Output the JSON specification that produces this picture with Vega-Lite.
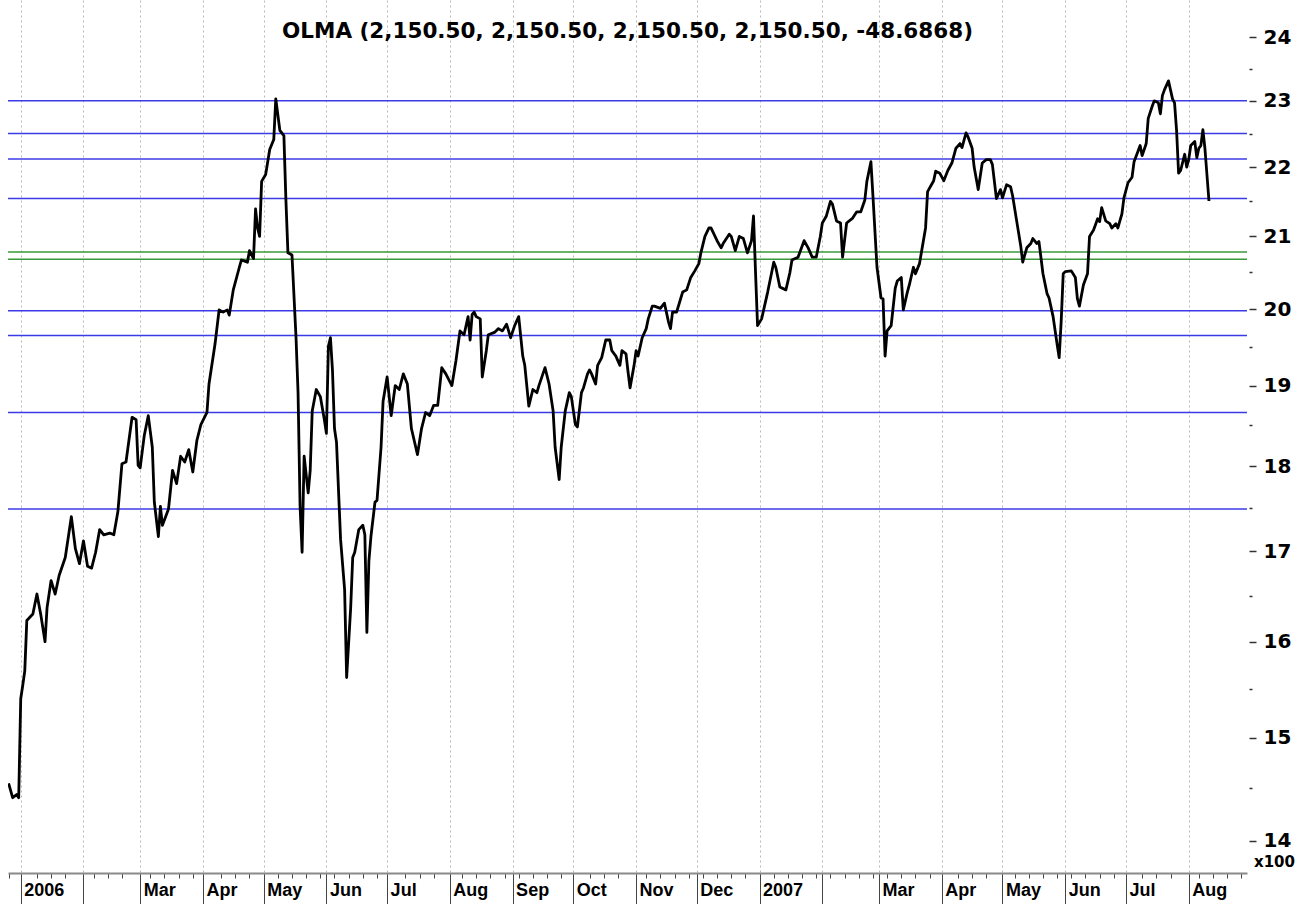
{
  "$schema": "https://vega.github.io/schema/vega-lite/v6.json",
  "width": 1239,
  "height": 873,
  "autosize": {"type": "none"},
  "padding": {"left": 8, "top": 0, "right": 60, "bottom": 31},
  "background": "white",
  "config": {"view": {"stroke": null}},
  "title": {
    "text": "OLMA (2,150.50, 2,150.50, 2,150.50, 2,150.50, -48.6868)",
    "font": "DejaVu Sans",
    "fontSize": 21.5,
    "fontWeight": "bold",
    "color": "black",
    "anchor": "middle",
    "frame": "group",
    "offset": -42
  },
  "encoding": {
    "y": {
      "field": "v",
      "type": "quantitative",
      "scale": {"type": "log", "domain": [13.70, 24.61], "nice": false, "zero": false},
      "axis": {
        "orient": "right",
        "values": [14, 14.5, 15, 15.5, 16, 16.5, 17, 17.5, 18, 18.5, 19, 19.5, 20, 20.5, 21, 21.5, 22, 22.5, 23, 23.5, 24],
        "labelExpr": "datum.value % 1 == 0 ? format(datum.value, 'd') : ''",
        "grid": false,
        "domain": false,
        "offset": 2,
        "tickSize": {"condition": {"test": "datum.value % 1 != 0", "value": 3}, "value": 7},
        "tickColor": "#333333",
        "tickWidth": 1.5,
        "labelFont": "DejaVu Sans",
        "labelFontSize": 20,
        "labelFontWeight": "bold",
        "labelColor": "black",
        "labelPadding": 7,
        "labelOverlap": false,
        "labelBound": false,
        "labelFlush": false,
        "title": "x100",
        "titleAngle": 0,
        "titleX": 25,
        "titleY": 861,
        "titleAlign": "center",
        "titleBaseline": "middle",
        "titleFont": "DejaVu Sans",
        "titleFontSize": 15,
        "titleFontWeight": "bold",
        "titleColor": "black"
      }
    }
  },
  "layer": [
    {
      "data": {"values": [
        {"v": 23.0, "kind": "blue"},
        {"v": 22.5, "kind": "blue"},
        {"v": 22.12, "kind": "blue"},
        {"v": 21.54, "kind": "blue"},
        {"v": 20.78, "kind": "green"},
        {"v": 20.68, "kind": "green"},
        {"v": 19.98, "kind": "blue"},
        {"v": 19.65, "kind": "blue"},
        {"v": 18.66, "kind": "blue"},
        {"v": 17.49, "kind": "blue"}
      ]},
      "mark": {"type": "rule", "strokeWidth": 1.5},
      "encoding": {
        "color": {"field": "kind", "type": "nominal", "scale": {"domain": ["blue", "green"], "range": ["#3b3be6", "#3a983a"]}, "legend": null}
      }
    },
    {
      "data": {"values": [
        {"date": "2005-12-26", "v": 14.55}, {"date": "2005-12-28", "v": 14.41}, {"date": "2005-12-30", "v": 14.44}, {"date": "2005-12-31", "v": 14.41},
        {"date": "2006-01-01", "v": 15.40}, {"date": "2006-01-02", "v": 15.54}, {"date": "2006-01-03", "v": 15.69}, {"date": "2006-01-04", "v": 16.23},
        {"date": "2006-01-07", "v": 16.30}, {"date": "2006-01-09", "v": 16.52}, {"date": "2006-01-11", "v": 16.28}, {"date": "2006-01-13", "v": 16.00},
        {"date": "2006-01-14", "v": 16.37}, {"date": "2006-01-16", "v": 16.67}, {"date": "2006-01-18", "v": 16.52}, {"date": "2006-01-20", "v": 16.73},
        {"date": "2006-01-23", "v": 16.93}, {"date": "2006-01-26", "v": 17.40}, {"date": "2006-01-28", "v": 17.03}, {"date": "2006-01-30", "v": 16.86},
        {"date": "2006-02-01", "v": 17.12}, {"date": "2006-02-03", "v": 16.83}, {"date": "2006-02-05", "v": 16.81}, {"date": "2006-02-07", "v": 16.99},
        {"date": "2006-02-09", "v": 17.25}, {"date": "2006-02-11", "v": 17.19}, {"date": "2006-02-14", "v": 17.21}, {"date": "2006-02-16", "v": 17.19},
        {"date": "2006-02-18", "v": 17.46}, {"date": "2006-02-20", "v": 18.03}, {"date": "2006-02-22", "v": 18.05}, {"date": "2006-02-25", "v": 18.60},
        {"date": "2006-02-27", "v": 18.57}, {"date": "2006-02-28", "v": 18.01}, {"date": "2006-03-01", "v": 17.98}, {"date": "2006-03-03", "v": 18.37},
        {"date": "2006-03-05", "v": 18.62}, {"date": "2006-03-07", "v": 18.23}, {"date": "2006-03-08", "v": 17.57}, {"date": "2006-03-10", "v": 17.17},
        {"date": "2006-03-11", "v": 17.52}, {"date": "2006-03-12", "v": 17.30}, {"date": "2006-03-15", "v": 17.49}, {"date": "2006-03-17", "v": 17.95},
        {"date": "2006-03-19", "v": 17.79}, {"date": "2006-03-21", "v": 18.12}, {"date": "2006-03-23", "v": 18.05}, {"date": "2006-03-25", "v": 18.20},
        {"date": "2006-03-27", "v": 17.93}, {"date": "2006-03-29", "v": 18.31}, {"date": "2006-03-31", "v": 18.51}, {"date": "2006-04-03", "v": 18.66},
        {"date": "2006-04-04", "v": 19.02}, {"date": "2006-04-07", "v": 19.54}, {"date": "2006-04-09", "v": 19.99}, {"date": "2006-04-11", "v": 19.96},
        {"date": "2006-04-13", "v": 19.99}, {"date": "2006-04-14", "v": 19.92}, {"date": "2006-04-16", "v": 20.26}, {"date": "2006-04-19", "v": 20.57},
        {"date": "2006-04-20", "v": 20.67}, {"date": "2006-04-23", "v": 20.64}, {"date": "2006-04-24", "v": 20.80}, {"date": "2006-04-26", "v": 20.69},
        {"date": "2006-04-27", "v": 21.39}, {"date": "2006-04-28", "v": 21.12}, {"date": "2006-04-29", "v": 21.00}, {"date": "2006-04-30", "v": 21.79},
        {"date": "2006-05-02", "v": 21.89}, {"date": "2006-05-04", "v": 22.26}, {"date": "2006-05-06", "v": 22.41}, {"date": "2006-05-07", "v": 23.03},
        {"date": "2006-05-09", "v": 22.55}, {"date": "2006-05-11", "v": 22.47}, {"date": "2006-05-12", "v": 21.52}, {"date": "2006-05-13", "v": 20.77},
        {"date": "2006-05-15", "v": 20.74}, {"date": "2006-05-17", "v": 19.62}, {"date": "2006-05-18", "v": 18.91}, {"date": "2006-05-19", "v": 17.52},
        {"date": "2006-05-20", "v": 16.99}, {"date": "2006-05-21", "v": 18.12}, {"date": "2006-05-23", "v": 17.68}, {"date": "2006-05-24", "v": 17.95},
        {"date": "2006-05-25", "v": 18.68}, {"date": "2006-05-27", "v": 18.95}, {"date": "2006-05-29", "v": 18.86}, {"date": "2006-05-31", "v": 18.57},
        {"date": "2006-06-01", "v": 18.40}, {"date": "2006-06-02", "v": 19.51}, {"date": "2006-06-03", "v": 19.62}, {"date": "2006-06-04", "v": 19.20},
        {"date": "2006-06-05", "v": 18.46}, {"date": "2006-06-06", "v": 18.29}, {"date": "2006-06-08", "v": 17.14}, {"date": "2006-06-10", "v": 16.57},
        {"date": "2006-06-11", "v": 15.62}, {"date": "2006-06-13", "v": 16.37}, {"date": "2006-06-14", "v": 16.93}, {"date": "2006-06-15", "v": 16.99},
        {"date": "2006-06-17", "v": 17.25}, {"date": "2006-06-19", "v": 17.30}, {"date": "2006-06-20", "v": 17.19}, {"date": "2006-06-21", "v": 16.10},
        {"date": "2006-06-22", "v": 16.89}, {"date": "2006-06-23", "v": 17.17}, {"date": "2006-06-25", "v": 17.57}, {"date": "2006-06-26", "v": 17.59},
        {"date": "2006-06-28", "v": 18.23}, {"date": "2006-06-29", "v": 18.80}, {"date": "2006-07-01", "v": 19.11}, {"date": "2006-07-03", "v": 18.62},
        {"date": "2006-07-05", "v": 19.00}, {"date": "2006-07-07", "v": 18.95}, {"date": "2006-07-09", "v": 19.15}, {"date": "2006-07-11", "v": 19.02},
        {"date": "2006-07-13", "v": 18.46}, {"date": "2006-07-16", "v": 18.14}, {"date": "2006-07-18", "v": 18.46}, {"date": "2006-07-20", "v": 18.66},
        {"date": "2006-07-22", "v": 18.62}, {"date": "2006-07-24", "v": 18.75}, {"date": "2006-07-26", "v": 18.75}, {"date": "2006-07-28", "v": 19.23},
        {"date": "2006-07-30", "v": 19.15}, {"date": "2006-08-02", "v": 19.00}, {"date": "2006-08-04", "v": 19.32}, {"date": "2006-08-06", "v": 19.71},
        {"date": "2006-08-08", "v": 19.66}, {"date": "2006-08-10", "v": 19.90}, {"date": "2006-08-11", "v": 19.59}, {"date": "2006-08-12", "v": 19.93},
        {"date": "2006-08-13", "v": 19.96}, {"date": "2006-08-14", "v": 19.90}, {"date": "2006-08-16", "v": 19.87}, {"date": "2006-08-17", "v": 19.11},
        {"date": "2006-08-19", "v": 19.45}, {"date": "2006-08-20", "v": 19.66}, {"date": "2006-08-23", "v": 19.69}, {"date": "2006-08-25", "v": 19.74},
        {"date": "2006-08-27", "v": 19.71}, {"date": "2006-08-29", "v": 19.80}, {"date": "2006-08-31", "v": 19.62}, {"date": "2006-09-02", "v": 19.78},
        {"date": "2006-09-04", "v": 19.90}, {"date": "2006-09-06", "v": 19.38}, {"date": "2006-09-07", "v": 19.26}, {"date": "2006-09-09", "v": 18.74},
        {"date": "2006-09-11", "v": 18.95}, {"date": "2006-09-13", "v": 18.91}, {"date": "2006-09-14", "v": 19.00}, {"date": "2006-09-17", "v": 19.23},
        {"date": "2006-09-19", "v": 19.02}, {"date": "2006-09-21", "v": 18.68}, {"date": "2006-09-22", "v": 18.23}, {"date": "2006-09-24", "v": 17.84},
        {"date": "2006-09-25", "v": 18.23}, {"date": "2006-09-27", "v": 18.68}, {"date": "2006-09-29", "v": 18.91}, {"date": "2006-09-30", "v": 18.86},
        {"date": "2006-10-02", "v": 18.51}, {"date": "2006-10-03", "v": 18.48}, {"date": "2006-10-05", "v": 18.91}, {"date": "2006-10-06", "v": 18.97},
        {"date": "2006-10-08", "v": 19.15}, {"date": "2006-10-09", "v": 19.20}, {"date": "2006-10-10", "v": 19.15}, {"date": "2006-10-12", "v": 19.02},
        {"date": "2006-10-13", "v": 19.26}, {"date": "2006-10-15", "v": 19.36}, {"date": "2006-10-17", "v": 19.59}, {"date": "2006-10-19", "v": 19.59},
        {"date": "2006-10-20", "v": 19.45}, {"date": "2006-10-22", "v": 19.38}, {"date": "2006-10-24", "v": 19.26}, {"date": "2006-10-25", "v": 19.45},
        {"date": "2006-10-27", "v": 19.41}, {"date": "2006-10-28", "v": 19.18}, {"date": "2006-10-29", "v": 18.97}, {"date": "2006-10-31", "v": 19.26},
        {"date": "2006-11-01", "v": 19.45}, {"date": "2006-11-02", "v": 19.38}, {"date": "2006-11-04", "v": 19.62}, {"date": "2006-11-06", "v": 19.74},
        {"date": "2006-11-07", "v": 19.87}, {"date": "2006-11-09", "v": 20.04}, {"date": "2006-11-10", "v": 20.04}, {"date": "2006-11-13", "v": 20.01},
        {"date": "2006-11-15", "v": 20.08}, {"date": "2006-11-17", "v": 19.83}, {"date": "2006-11-18", "v": 19.74}, {"date": "2006-11-19", "v": 19.96},
        {"date": "2006-11-21", "v": 19.96}, {"date": "2006-11-23", "v": 20.14}, {"date": "2006-11-24", "v": 20.23}, {"date": "2006-11-26", "v": 20.26},
        {"date": "2006-11-28", "v": 20.43}, {"date": "2006-11-30", "v": 20.52}, {"date": "2006-12-02", "v": 20.62}, {"date": "2006-12-03", "v": 20.77},
        {"date": "2006-12-05", "v": 21.00}, {"date": "2006-12-07", "v": 21.12}, {"date": "2006-12-08", "v": 21.12}, {"date": "2006-12-11", "v": 20.94},
        {"date": "2006-12-13", "v": 20.84}, {"date": "2006-12-14", "v": 20.90}, {"date": "2006-12-17", "v": 21.03}, {"date": "2006-12-18", "v": 21.00},
        {"date": "2006-12-20", "v": 20.80}, {"date": "2006-12-22", "v": 21.00}, {"date": "2006-12-24", "v": 20.97}, {"date": "2006-12-26", "v": 20.77},
        {"date": "2006-12-28", "v": 20.94}, {"date": "2006-12-29", "v": 21.29}, {"date": "2006-12-30", "v": 20.50}, {"date": "2006-12-31", "v": 19.78},
        {"date": "2007-01-02", "v": 19.87}, {"date": "2007-01-05", "v": 20.23}, {"date": "2007-01-08", "v": 20.64}, {"date": "2007-01-09", "v": 20.57},
        {"date": "2007-01-11", "v": 20.30}, {"date": "2007-01-14", "v": 20.26}, {"date": "2007-01-16", "v": 20.50}, {"date": "2007-01-17", "v": 20.67},
        {"date": "2007-01-20", "v": 20.71}, {"date": "2007-01-23", "v": 20.94}, {"date": "2007-01-25", "v": 20.84}, {"date": "2007-01-27", "v": 20.71},
        {"date": "2007-01-29", "v": 20.71}, {"date": "2007-01-31", "v": 21.00}, {"date": "2007-02-01", "v": 21.19}, {"date": "2007-02-03", "v": 21.29},
        {"date": "2007-02-05", "v": 21.50}, {"date": "2007-02-06", "v": 21.46}, {"date": "2007-02-08", "v": 21.22}, {"date": "2007-02-10", "v": 21.19},
        {"date": "2007-02-11", "v": 20.71}, {"date": "2007-02-13", "v": 21.19}, {"date": "2007-02-16", "v": 21.26}, {"date": "2007-02-18", "v": 21.35},
        {"date": "2007-02-20", "v": 21.35}, {"date": "2007-02-22", "v": 21.52}, {"date": "2007-02-23", "v": 21.79}, {"date": "2007-02-25", "v": 22.08},
        {"date": "2007-02-26", "v": 21.58}, {"date": "2007-02-28", "v": 20.57}, {"date": "2007-03-02", "v": 20.15}, {"date": "2007-03-03", "v": 20.14},
        {"date": "2007-03-04", "v": 19.38}, {"date": "2007-03-05", "v": 19.71}, {"date": "2007-03-07", "v": 19.78}, {"date": "2007-03-09", "v": 20.28},
        {"date": "2007-03-10", "v": 20.38}, {"date": "2007-03-12", "v": 20.43}, {"date": "2007-03-13", "v": 19.99}, {"date": "2007-03-15", "v": 20.23},
        {"date": "2007-03-16", "v": 20.33}, {"date": "2007-03-18", "v": 20.57}, {"date": "2007-03-19", "v": 20.48}, {"date": "2007-03-21", "v": 20.62},
        {"date": "2007-03-24", "v": 21.12}, {"date": "2007-03-25", "v": 21.64}, {"date": "2007-03-28", "v": 21.80}, {"date": "2007-03-29", "v": 21.94},
        {"date": "2007-03-31", "v": 21.91}, {"date": "2007-04-02", "v": 21.80}, {"date": "2007-04-04", "v": 21.95}, {"date": "2007-04-06", "v": 22.06},
        {"date": "2007-04-08", "v": 22.28}, {"date": "2007-04-10", "v": 22.35}, {"date": "2007-04-11", "v": 22.29}, {"date": "2007-04-13", "v": 22.51},
        {"date": "2007-04-14", "v": 22.45}, {"date": "2007-04-16", "v": 22.28}, {"date": "2007-04-17", "v": 22.00}, {"date": "2007-04-19", "v": 21.67},
        {"date": "2007-04-21", "v": 22.06}, {"date": "2007-04-23", "v": 22.11}, {"date": "2007-04-25", "v": 22.11}, {"date": "2007-04-26", "v": 22.04},
        {"date": "2007-04-28", "v": 21.54}, {"date": "2007-04-30", "v": 21.67}, {"date": "2007-05-01", "v": 21.55}, {"date": "2007-05-03", "v": 21.74},
        {"date": "2007-05-05", "v": 21.71}, {"date": "2007-05-06", "v": 21.58}, {"date": "2007-05-08", "v": 21.22}, {"date": "2007-05-10", "v": 20.87},
        {"date": "2007-05-11", "v": 20.64}, {"date": "2007-05-13", "v": 20.84}, {"date": "2007-05-15", "v": 20.90}, {"date": "2007-05-16", "v": 20.97},
        {"date": "2007-05-18", "v": 20.90}, {"date": "2007-05-19", "v": 20.93}, {"date": "2007-05-21", "v": 20.48}, {"date": "2007-05-23", "v": 20.21},
        {"date": "2007-05-24", "v": 20.15}, {"date": "2007-05-26", "v": 19.90}, {"date": "2007-05-28", "v": 19.53}, {"date": "2007-05-29", "v": 19.36},
        {"date": "2007-05-30", "v": 19.84}, {"date": "2007-05-31", "v": 20.48}, {"date": "2007-06-01", "v": 20.51}, {"date": "2007-06-04", "v": 20.52},
        {"date": "2007-06-06", "v": 20.43}, {"date": "2007-06-07", "v": 20.14}, {"date": "2007-06-08", "v": 20.04}, {"date": "2007-06-10", "v": 20.33},
        {"date": "2007-06-12", "v": 20.48}, {"date": "2007-06-13", "v": 21.00}, {"date": "2007-06-15", "v": 21.09}, {"date": "2007-06-17", "v": 21.25},
        {"date": "2007-06-18", "v": 21.21}, {"date": "2007-06-19", "v": 21.41}, {"date": "2007-06-21", "v": 21.22}, {"date": "2007-06-23", "v": 21.18},
        {"date": "2007-06-24", "v": 21.12}, {"date": "2007-06-26", "v": 21.18}, {"date": "2007-06-27", "v": 21.12}, {"date": "2007-06-29", "v": 21.32},
        {"date": "2007-06-30", "v": 21.55}, {"date": "2007-07-02", "v": 21.77}, {"date": "2007-07-04", "v": 21.85}, {"date": "2007-07-05", "v": 22.08},
        {"date": "2007-07-08", "v": 22.32}, {"date": "2007-07-09", "v": 22.17}, {"date": "2007-07-11", "v": 22.35}, {"date": "2007-07-12", "v": 22.73},
        {"date": "2007-07-14", "v": 22.92}, {"date": "2007-07-15", "v": 23.00}, {"date": "2007-07-17", "v": 22.97}, {"date": "2007-07-18", "v": 22.80},
        {"date": "2007-07-19", "v": 23.08}, {"date": "2007-07-20", "v": 23.17}, {"date": "2007-07-22", "v": 23.31}, {"date": "2007-07-24", "v": 23.03},
        {"date": "2007-07-25", "v": 22.97}, {"date": "2007-07-26", "v": 22.55}, {"date": "2007-07-27", "v": 21.91}, {"date": "2007-07-28", "v": 21.95},
        {"date": "2007-07-30", "v": 22.19}, {"date": "2007-07-31", "v": 22.00}, {"date": "2007-08-01", "v": 22.11}, {"date": "2007-08-02", "v": 22.32},
        {"date": "2007-08-04", "v": 22.38}, {"date": "2007-08-05", "v": 22.14}, {"date": "2007-08-06", "v": 22.28}, {"date": "2007-08-07", "v": 22.32},
        {"date": "2007-08-08", "v": 22.56}, {"date": "2007-08-09", "v": 22.28}, {"date": "2007-08-11", "v": 21.505}
      ]},
      "mark": {"type": "line", "color": "black", "strokeWidth": 2.8, "strokeJoin": "round", "clip": true},
      "encoding": {
        "x": {
          "field": "date",
          "type": "temporal",
          "scale": {
            "type": "utc",
            "domain": [
              {"year": 2005, "month": 12, "date": 25, "hours": 17, "utc": true},
              {"year": 2007, "month": 8, "date": 29, "hours": 19, "utc": true}
            ]
          },
          "axis": {
            "values": [
              {"year": 2005, "month": 12, "date": 26, "utc": true},
              {"year": 2006, "month": 1, "date": 1, "utc": true},
              {"year": 2006, "month": 1, "date": 9, "utc": true},
              {"year": 2006, "month": 1, "date": 16, "utc": true},
              {"year": 2006, "month": 1, "date": 23, "utc": true},
              {"year": 2006, "month": 2, "date": 1, "utc": true},
              {"year": 2006, "month": 2, "date": 6, "utc": true},
              {"year": 2006, "month": 2, "date": 13, "utc": true},
              {"year": 2006, "month": 2, "date": 20, "utc": true},
              {"year": 2006, "month": 3, "date": 1, "utc": true},
              {"year": 2006, "month": 3, "date": 6, "utc": true},
              {"year": 2006, "month": 3, "date": 13, "utc": true},
              {"year": 2006, "month": 3, "date": 20, "utc": true},
              {"year": 2006, "month": 3, "date": 27, "utc": true},
              {"year": 2006, "month": 4, "date": 1, "utc": true},
              {"year": 2006, "month": 4, "date": 10, "utc": true},
              {"year": 2006, "month": 4, "date": 17, "utc": true},
              {"year": 2006, "month": 4, "date": 24, "utc": true},
              {"year": 2006, "month": 5, "date": 1, "utc": true},
              {"year": 2006, "month": 5, "date": 8, "utc": true},
              {"year": 2006, "month": 5, "date": 15, "utc": true},
              {"year": 2006, "month": 5, "date": 22, "utc": true},
              {"year": 2006, "month": 5, "date": 29, "utc": true},
              {"year": 2006, "month": 6, "date": 1, "utc": true},
              {"year": 2006, "month": 6, "date": 5, "utc": true},
              {"year": 2006, "month": 6, "date": 12, "utc": true},
              {"year": 2006, "month": 6, "date": 19, "utc": true},
              {"year": 2006, "month": 6, "date": 26, "utc": true},
              {"year": 2006, "month": 7, "date": 1, "utc": true},
              {"year": 2006, "month": 7, "date": 10, "utc": true},
              {"year": 2006, "month": 7, "date": 17, "utc": true},
              {"year": 2006, "month": 7, "date": 24, "utc": true},
              {"year": 2006, "month": 8, "date": 1, "utc": true},
              {"year": 2006, "month": 8, "date": 7, "utc": true},
              {"year": 2006, "month": 8, "date": 14, "utc": true},
              {"year": 2006, "month": 8, "date": 21, "utc": true},
              {"year": 2006, "month": 8, "date": 28, "utc": true},
              {"year": 2006, "month": 9, "date": 1, "utc": true},
              {"year": 2006, "month": 9, "date": 4, "utc": true},
              {"year": 2006, "month": 9, "date": 11, "utc": true},
              {"year": 2006, "month": 9, "date": 18, "utc": true},
              {"year": 2006, "month": 9, "date": 25, "utc": true},
              {"year": 2006, "month": 10, "date": 1, "utc": true},
              {"year": 2006, "month": 10, "date": 9, "utc": true},
              {"year": 2006, "month": 10, "date": 16, "utc": true},
              {"year": 2006, "month": 10, "date": 23, "utc": true},
              {"year": 2006, "month": 11, "date": 1, "utc": true},
              {"year": 2006, "month": 11, "date": 6, "utc": true},
              {"year": 2006, "month": 11, "date": 13, "utc": true},
              {"year": 2006, "month": 11, "date": 20, "utc": true},
              {"year": 2006, "month": 11, "date": 27, "utc": true},
              {"year": 2006, "month": 12, "date": 1, "utc": true},
              {"year": 2006, "month": 12, "date": 4, "utc": true},
              {"year": 2006, "month": 12, "date": 11, "utc": true},
              {"year": 2006, "month": 12, "date": 18, "utc": true},
              {"year": 2006, "month": 12, "date": 25, "utc": true},
              {"year": 2007, "month": 1, "date": 1, "utc": true},
              {"year": 2007, "month": 1, "date": 8, "utc": true},
              {"year": 2007, "month": 1, "date": 15, "utc": true},
              {"year": 2007, "month": 1, "date": 22, "utc": true},
              {"year": 2007, "month": 1, "date": 29, "utc": true},
              {"year": 2007, "month": 2, "date": 1, "utc": true},
              {"year": 2007, "month": 2, "date": 5, "utc": true},
              {"year": 2007, "month": 2, "date": 12, "utc": true},
              {"year": 2007, "month": 2, "date": 19, "utc": true},
              {"year": 2007, "month": 2, "date": 26, "utc": true},
              {"year": 2007, "month": 3, "date": 1, "utc": true},
              {"year": 2007, "month": 3, "date": 5, "utc": true},
              {"year": 2007, "month": 3, "date": 12, "utc": true},
              {"year": 2007, "month": 3, "date": 19, "utc": true},
              {"year": 2007, "month": 3, "date": 26, "utc": true},
              {"year": 2007, "month": 4, "date": 1, "utc": true},
              {"year": 2007, "month": 4, "date": 9, "utc": true},
              {"year": 2007, "month": 4, "date": 16, "utc": true},
              {"year": 2007, "month": 4, "date": 23, "utc": true},
              {"year": 2007, "month": 5, "date": 1, "utc": true},
              {"year": 2007, "month": 5, "date": 7, "utc": true},
              {"year": 2007, "month": 5, "date": 14, "utc": true},
              {"year": 2007, "month": 5, "date": 21, "utc": true},
              {"year": 2007, "month": 5, "date": 28, "utc": true},
              {"year": 2007, "month": 6, "date": 1, "utc": true},
              {"year": 2007, "month": 6, "date": 4, "utc": true},
              {"year": 2007, "month": 6, "date": 11, "utc": true},
              {"year": 2007, "month": 6, "date": 18, "utc": true},
              {"year": 2007, "month": 6, "date": 25, "utc": true},
              {"year": 2007, "month": 7, "date": 1, "utc": true},
              {"year": 2007, "month": 7, "date": 9, "utc": true},
              {"year": 2007, "month": 7, "date": 16, "utc": true},
              {"year": 2007, "month": 7, "date": 23, "utc": true},
              {"year": 2007, "month": 8, "date": 1, "utc": true},
              {"year": 2007, "month": 8, "date": 6, "utc": true},
              {"year": 2007, "month": 8, "date": 13, "utc": true},
              {"year": 2007, "month": 8, "date": 20, "utc": true},
              {"year": 2007, "month": 8, "date": 27, "utc": true}
            ],
            "labelExpr": "utcdate(datum.value) != 1 || utcmonth(datum.value) == 1 ? '' : (utcmonth(datum.value) == 0 ? utcFormat(datum.value, '%Y') : utcFormat(datum.value, '%b'))",
            "tickSize": {"condition": {"test": "utcdate(datum.value) == 1", "value": 31}, "value": 5},
            "tickColor": "#444444",
            "tickWidth": 1,
            "grid": true,
            "gridOpacity": {"condition": {"test": "utcdate(datum.value) == 1", "value": 1}, "value": 0},
            "gridDash": [2, 3],
            "gridColor": "#b8b8b8",
            "gridWidth": 1,
            "domainColor": "#8a8a8a",
            "domainWidth": 2,
            "labelAlign": "left",
            "labelBaseline": "top",
            "labelOffset": 3,
            "labelPadding": -23,
            "labelFont": "Liberation Sans",
            "labelFontSize": 18,
            "labelFontWeight": "bold",
            "labelColor": "black",
            "labelOverlap": false,
            "labelFlush": false,
            "labelBound": false,
            "title": null
          }
        }
      }
    }
  ]
}
